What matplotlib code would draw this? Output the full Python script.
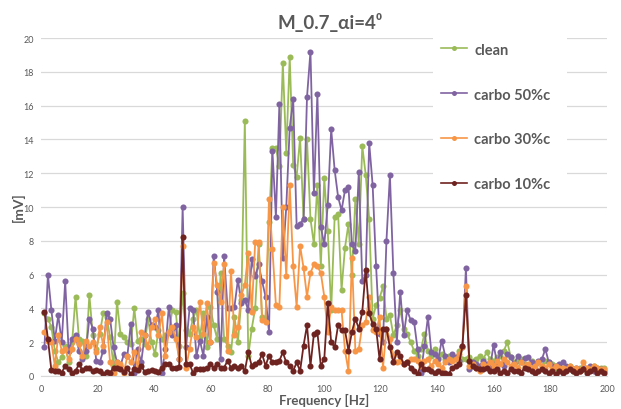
import numpy as np
import matplotlib
matplotlib.use('Agg')
import matplotlib.pyplot as plt

plt.rcParams['font.family'] = ['Lato', 'DejaVu Sans']

# Frequency grid (Hz): constant spectral resolution
freq_step = 1.2207
n_points = 163
freq = np.arange(1, n_points + 1) * freq_step

clean = [
    3.7, 3.4, 2.9, 1.5, 0.8, 1.1, 1.8, 0.8, 2.0, 4.7,
    2.2, 2.1, 1.2, 4.8, 2.4, 1.6, 2.5, 3.7, 3.5, 2.3,
    0.6, 4.4, 2.5, 2.3, 2.0, 1.9, 4.0, 2.1, 2.2, 1.9,
    3.4, 2.0, 1.3, 2.7, 2.2, 2.4, 2.6, 3.9, 3.8, 1.8,
    4.9, 2.7, 2.5, 3.4, 3.9, 2.3, 3.7, 1.7, 4.1, 3.0,
    2.2, 6.1, 2.2, 1.8, 1.4, 3.5, 2.0, 4.5, 15.1, 1.2,
    2.8, 4.0, 7.8, 3.5, 3.4, 9.1, 13.5, 13.5, 12.4, 18.5,
    13.2, 18.9, 12.5, 11.8, 14.1, 9.3, 14.0, 9.3, 7.8, 11.3,
    6.5, 11.7, 8.6, 3.9, 9.4, 9.6, 5.1, 7.6, 9.0, 6.0,
    10.5, 7.8, 13.6, 11.9, 9.3, 3.4, 4.2, 4.6, 5.3, 3.4,
    3.6, 2.4, 3.0, 3.9, 2.8, 2.5, 2.0, 1.5, 1.2, 1.6,
    2.5, 1.5, 1.2, 1.6, 1.1, 1.3, 1.0, 1.2, 1.0, 1.0,
    1.5, 1.0, 1.0, 1.1, 0.9, 1.0, 1.2, 1.0, 1.4, 1.0,
    0.9, 1.1, 1.2, 1.5, 2.0, 1.1, 0.8, 0.9, 1.0, 0.7,
    0.6, 0.9, 0.7, 0.8, 0.6, 0.9, 0.8, 0.7, 0.5, 0.6,
    0.4, 0.5, 0.6, 0.3, 0.4, 0.5, 0.4, 0.3, 0.5, 0.6,
    0.4, 0.5, 0.5,
]

carbo50 = [
    1.7, 6.0, 3.9, 2.1, 3.6, 2.0, 5.6, 1.5, 2.2, 2.4,
    1.5, 1.0, 1.5, 3.4, 2.8, 0.9, 0.8, 1.5, 3.7, 3.4,
    1.7, 0.8, 0.6, 1.3, 1.2, 3.1, 0.2, 1.6, 0.8, 2.4,
    3.8, 3.0, 2.9, 3.9, 0.2, 1.6, 4.1, 2.4, 3.0, 1.0,
    10.0, 1.7, 4.0, 3.9, 1.2, 2.1, 1.2, 3.5, 2.0, 7.1,
    5.0, 1.0, 7.1, 4.0, 4.0, 4.1, 5.7, 4.3, 4.5, 3.9,
    6.9, 5.9, 6.6, 5.6, 4.7, 2.6, 13.3, 9.4, 16.1, 7.0,
    10.0, 14.7, 16.4, 8.9, 9.0, 9.3, 16.5, 19.2, 10.8, 16.7,
    8.8, 7.8, 10.1, 14.6, 12.2, 10.6, 9.8, 11.0, 11.2, 7.8,
    7.4, 12.1, 5.6, 6.0, 13.8, 11.3, 6.5, 2.5, 2.0, 8.0,
    11.9, 6.1, 2.0, 5.0, 2.4, 3.9, 3.3, 3.2, 1.6, 0.2,
    1.8, 3.5, 1.4, 1.3, 1.0, 2.1, 1.2, 0.8, 1.3, 1.1,
    0.9, 1.7, 6.4, 0.4, 0.8, 0.7, 0.6, 0.9, 0.7, 0.5,
    1.85, 0.8, 1.4, 0.6, 1.3, 1.1, 0.7, 1.2, 0.8, 1.05,
    1.1, 0.8, 0.7, 0.9, 1.0, 1.6, 0.8, 0.6, 0.6, 0.7,
    0.8, 0.6, 0.5, 0.4, 0.5, 0.3, 0.5, 0.4, 0.6, 0.3,
    0.5, 0.4, 0.3,
]

carbo30 = [
    2.6, 2.1, 2.0, 0.6, 2.4, 1.5, 1.6, 1.0, 1.6, 2.2,
    1.9, 1.2, 2.1, 1.8, 2.0, 1.4, 2.9, 1.8, 3.2, 0.8,
    0.2, 0.8, 0.7, 0.2, 1.2, 0.8, 1.4, 0.5, 2.6, 2.4,
    1.7, 2.9, 3.4, 2.4, 3.7, 1.2, 2.6, 2.9, 2.2, 1.0,
    7.7, 0.5, 1.6, 2.9, 2.3, 4.4, 2.5, 4.3, 2.0, 6.7,
    5.4, 4.4, 6.6, 1.5, 6.2, 2.4, 2.9, 4.8, 5.4, 7.3,
    3.8, 7.9, 7.9, 3.3, 3.2, 10.5, 7.5, 4.2, 4.1, 10.0,
    5.9, 11.3, 6.5, 4.1, 7.7, 6.4, 4.7, 6.1, 6.6, 6.5,
    6.1, 4.7, 2.6, 4.1, 3.9, 3.9, 3.9, 1.5, 0.3, 7.0,
    1.5, 1.6, 3.0, 3.2, 4.7, 2.7, 2.6, 3.5, 0.5, 2.8,
    2.2, 1.2, 0.8, 0.9, 0.7, 0.8, 1.0, 1.0, 0.9, 0.6,
    0.9, 1.0, 0.6, 0.9, 0.7, 0.5, 0.8, 1.0, 0.9, 1.0,
    1.3, 1.7, 5.3, 0.6, 0.7, 0.5, 0.3, 0.7, 0.6, 0.8,
    0.6, 0.9, 0.7, 1.0, 0.8, 0.6, 0.7, 0.5, 0.8, 0.6,
    0.7, 0.5, 0.6, 0.8, 0.6, 0.5, 0.7, 0.4, 0.6, 0.5,
    0.5, 0.4, 0.6, 0.4, 0.5, 0.3, 0.8, 0.5, 0.4, 0.6,
    0.5, 0.4, 0.4,
]

carbo10 = [
    3.8, 2.2, 0.35, 0.3, 0.3, 0.2, 0.6, 0.4, 0.2, 0.3,
    0.7, 0.35, 0.45, 0.45, 0.3, 0.35, 0.3, 0.1, 0.25, 0.2,
    0.5, 0.5, 0.4, 0.25, 0.45, 0.1, 0.4, 0.35, 0.6, 0.25,
    0.3, 0.35, 0.3, 0.25, 0.5, 0.7, 0.7, 0.5, 0.5, 0.55,
    8.2, 0.7, 0.7, 0.2, 0.4, 0.4, 0.4, 0.45, 0.7, 0.5,
    0.7, 0.5, 0.5, 0.9, 0.5, 0.6, 0.5, 0.6, 0.3, 1.4,
    0.6, 0.7, 0.8, 1.3, 0.6, 1.2, 0.8, 0.8, 0.9, 1.4,
    0.8, 0.6, 0.3, 0.8, 0.3, 1.8, 3.0, 0.6, 2.5, 2.6,
    0.6, 1.0, 4.3, 2.0, 1.7, 3.0, 2.7, 2.7, 1.5, 2.6,
    3.4, 2.8, 3.8, 6.3, 3.7, 3.1, 2.8, 1.0, 2.8, 2.8,
    1.7, 0.8, 1.4, 1.2, 0.7, 0.8, 0.5, 0.3, 0.1, 0.7,
    0.4, 0.4, 0.3, 0.2, 0.3, 0.2, 0.2, 0.1, 0.5, 0.6,
    0.7, 1.8, 4.8, 0.9, 0.6, 0.5, 0.4, 0.4, 0.5, 0.3,
    0.3, 0.4, 0.2, 0.3, 0.2, 0.4, 0.3, 0.3, 0.2, 0.5,
    0.4, 0.3, 0.2, 0.3, 0.4, 0.3, 0.2, 0.3, 0.1, 0.3,
    0.2, 0.3, 0.4, 0.3, 0.2, 0.3, 0.4, 0.2, 0.3, 0.4,
    0.2, 0.3, 0.2,
]

series_names = ['clean', 'carbo 50%c', 'carbo 30%c', 'carbo 10%c']
series_values = [clean, carbo50, carbo30, carbo10]
series_colors = ['#9BBB59', '#8064A2', '#F79646', '#6E2320']

x_ticks = list(range(0, 201, 20))
y_ticks = list(range(0, 21, 2))

W, H = 621, 410
fig = plt.figure(figsize=(W / 100, H / 100), dpi=100)
ax = fig.add_axes([41 / W, 1 - 377 / H, 566 / W, 338 / H])

for name, vals, col in zip(series_names, series_values, series_colors):
    ax.plot(freq, vals, color=col, lw=1.3, marker='o', markersize=4.4,
            markeredgewidth=0, label=name)

ax.set_xlim(0, 200)
ax.set_ylim(0, 20)
ax.set_xticks(x_ticks)
ax.set_yticks(y_ticks)
ax.tick_params(length=0, labelsize=6.5, colors='#595959')
ax.tick_params(axis='y', pad=5)
ax.tick_params(axis='x', pad=6)
for s in ['top', 'right', 'left']:
    ax.spines[s].set_visible(False)
ax.spines['bottom'].set_color('#D9D9D9')
ax.yaxis.grid(True, color='#D9D9D9', lw=0.9)
ax.set_axisbelow(True)

leg = ax.legend(loc='upper left', bbox_to_anchor=(0.693, 1.008, 0.236, 0.0),
                mode='expand', labelspacing=2.12, handlelength=1.8,
                handletextpad=0.5, borderpad=0.5, borderaxespad=0.0,
                frameon=True, facecolor='white', edgecolor='none',
                framealpha=1.0, prop={'weight': 'bold', 'size': 10.5})
for t in leg.get_texts():
    t.set_color('#595959')
for h in leg.legend_handles:
    h.set_markersize(3.6)
    h.set_linewidth(1.2)

fig.text(330 / W, 1 - 22 / H, 'M_0.7_αi=4⁰', ha='center', va='center',
         fontsize=13.5, fontweight='bold', color='#595959')
fig.text(18 / W, 1 - 207 / H, '[mV]', ha='center', va='center', rotation=90,
         fontsize=10, fontweight='bold', color='#595959')
fig.text(324 / W, 1 - 400 / H, 'Frequency [Hz]', ha='center', va='center',
         fontsize=9.5, fontweight='bold', color='#595959')

fig.savefig('out.png', dpi=100, facecolor='white')
